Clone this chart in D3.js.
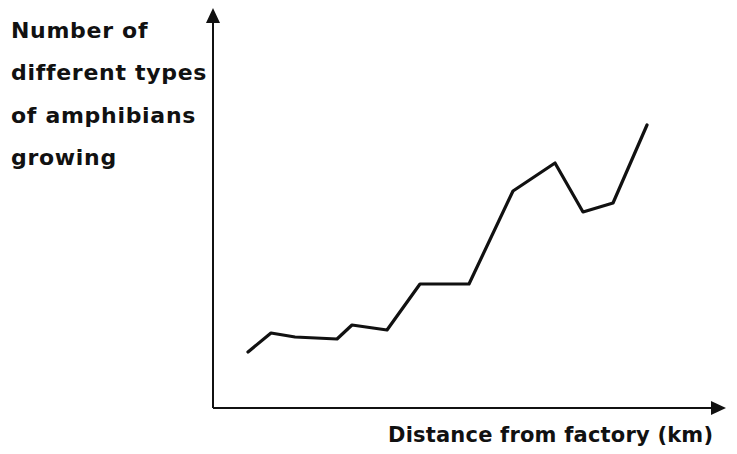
<!DOCTYPE html>
<html><head><meta charset="utf-8">
<script src="https://cdn.jsdelivr.net/npm/d3@7"></script>
<style>body{margin:0;background:#fff}svg{display:block}text{font-family:"DejaVu Sans",sans-serif;font-weight:bold;fill:#111}</style>
</head><body>
<script>
const distance = [7, 11.6, 16.4, 24.8, 27.8, 34.8, 41.4, 51.2, 60, 68.4, 74, 80, 86.8];
const amphibianTypes = [5.6, 7.5, 7.1, 6.9, 8.3, 7.8, 12.4, 12.4, 21.7, 24.5, 19.6, 20.5, 28.3];
const yLabelLines = ["Number of", "different types", "of amphibians", "growing"];
const xLabel = "Distance from factory (km)";

const W = 737, H = 454;
const svg = d3.select("body").append("svg").attr("width", W).attr("height", H);
const x = d3.scaleLinear().domain([0, 100]).range([213, 713]);
const y = d3.scaleLinear().domain([0, 40]).range([408, 8]);

// axes
svg.append("line").attr("x1", x(0)).attr("x2", 722).attr("y1", y(0)).attr("y2", y(0))
  .attr("stroke", "#111").attr("stroke-width", 2);
svg.append("line").attr("x1", x(0)).attr("x2", x(0)).attr("y1", y(0)).attr("y2", 20)
  .attr("stroke", "#111").attr("stroke-width", 2);
svg.append("path").attr("d", `M${x(0)},8 L${x(0)-7},23 L${x(0)+7},23 Z`).attr("fill", "#111");
svg.append("path").attr("d", `M726,${y(0)} L711,${y(0)-7} L711,${y(0)+7} Z`).attr("fill", "#111");

// data line
const data = distance.map((d, i) => [d, amphibianTypes[i]]);
svg.append("path").datum(data)
  .attr("d", d3.line().x(d => x(d[0])).y(d => y(d[1])))
  .attr("fill", "none").attr("stroke", "#111").attr("stroke-width", 3.2)
  .attr("stroke-linejoin", "round").attr("stroke-linecap", "round");

// labels
svg.selectAll("text.yl").data(yLabelLines).join("text").attr("class", "yl")
  .attr("x", 11).attr("y", (d, i) => 38 + i * 42.3).attr("font-size", 22)
  .attr("letter-spacing", 0.7).text(d => d);
svg.append("text").attr("x", 388).attr("y", 442).attr("font-size", 21)
  .attr("letter-spacing", 0.2).text(xLabel);
</script>
</body></html>
